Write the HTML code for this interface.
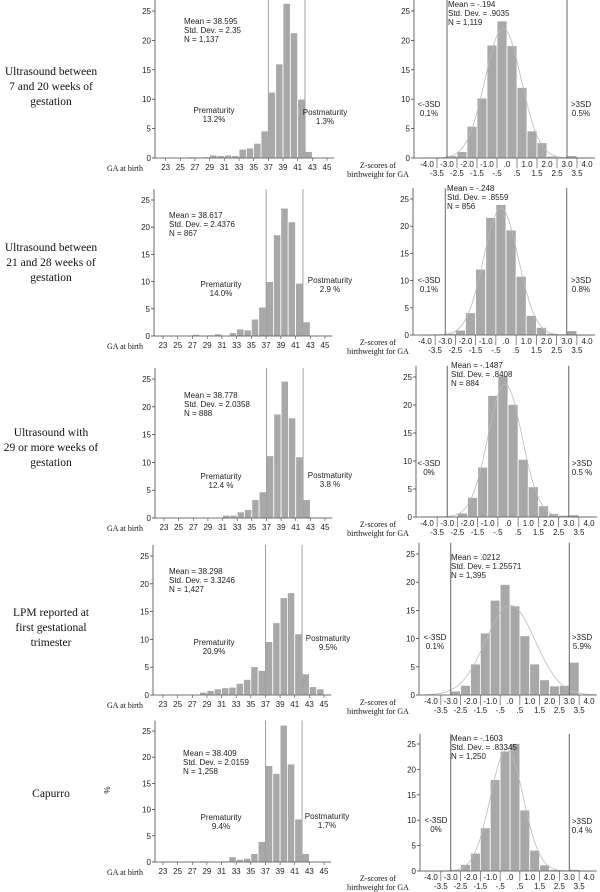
<!DOCTYPE html>
<html><head><meta charset="utf-8">
<style>
html,body{margin:0;padding:0;background:#fff;}
svg{display:block;}
.lab{font-family:"Liberation Serif",serif;font-size:11.5px;fill:#111;}
.t{font-family:"Liberation Sans",sans-serif;font-size:8px;fill:#222;}
.ax{font-family:"Liberation Serif",serif;font-size:8px;fill:#111;}
</style></head><body>
<svg id="fig" width="600" height="892" xmlns="http://www.w3.org/2000/svg"></svg>
<script>
// Gestational age histograms (bins 22..44, % per week)
const gaBins = [22,23,24,25,26,27,28,29,30,31,32,33,34,35,36,37,38,39,40,41,42,43,44];
const gaRow1 = [0,0,0,0.05,0.2,0.1,0.2,0.5,0.4,0.5,0.4,1.5,1.7,2.5,4.6,11.2,16,26.3,21.3,10,1.1,0,0];
const gaRow2 = [0,0,0,0,0,0.3,0.1,0.2,0.4,0,0.6,1.3,1.1,3.1,5.3,10,18.6,23.5,21,9.7,2.6,0,0];
const gaRow3 = [0,0,0,0,0,0,0,0,0.1,0.5,0.5,1.1,1.5,3.3,4.7,11.2,18.7,24.6,18,11,3.3,0.1,0.1];
const gaRow4 = [0,0,0,0.1,0.05,0.1,0.5,0.8,1.1,1.3,1.4,2.1,2.8,5.1,4.4,9.6,13,17.5,18.4,11,3.8,1.5,1.1];
const gaRow5 = [0,0,0,0,0.05,0,0.2,0,0.1,0.2,1,0.5,0.7,1.6,3.9,18.4,16.9,26.1,18.7,8.2,1.6,0,0];
const gaTicks = [23,25,27,29,31,33,35,37,39,41,43,45];
// Z-score histograms (bin start -3.5..3.0, width 0.5)
const zBins = [-3.5,-3,-2.5,-2,-1.5,-1,-0.5,0,0.5,1,1.5,2,2.5,3];
const zRow1 = [0.1,0.4,1.1,5.4,10.2,19.2,23.3,19.1,12,4.6,2.6,0.3,0.1,0.4];
const zRow2 = [0,0.3,0.9,4.1,12.1,21.6,24,19.3,10.8,3.6,1.4,0.3,0.1,0.8];
const zRow3 = [0,0,0.7,3.5,8.9,21.7,25.2,20.1,10.3,5.4,2,0.6,0.3,0.4];
const zRow4 = [0,0.7,1.7,5.5,11,16.8,19.6,15.8,10.5,5.5,2.7,1.6,1.7,5.8];
const zRow5 = [0,0.3,1.3,3.5,8.5,18,23.6,25.1,12,4.1,1.2,0.3,0,0.3];
const zMeans = [-0.194,-0.248,-0.1487,0.0212,-0.1603];
const zSDs = [0.9035,0.8559,0.8408,1.25571,0.83345];
const zTicksTop = ["-4.0","-3.0","-2.0","-1.0",".0","1.0","2.0","3.0","4.0"];
const zTicksBot = ["-3.5","-2.5","-1.5","-.5",".5","1.5","2.5","3.5"];
const yTicks = [0,5,10,15,20,25];
const leftStats = [["Mean = 38.595","Std. Dev. = 2.35","N = 1,137"],["Mean = 38.617","Std. Dev. = 2.4376","N = 867"],["Mean = 38.778","Std. Dev. = 2.0358","N = 888"],["Mean = 38.298","Std. Dev. = 3.3246","N = 1,427"],["Mean = 38.409","Std. Dev. = 2.0159","N = 1,258"]];
const rightStats = [["Mean = -.194","Std. Dev. = .9035","N = 1,119"],["Mean = -.248","Std. Dev. = .8559","N = 856"],["Mean = -.1487","Std. Dev. = .8408","N = 884"],["Mean = .0212","Std. Dev. = 1.25571","N = 1,395"],["Mean = -.1603","Std. Dev. = .83345","N = 1,250"]];
const preLabels = ["13.2%","14.0%","12.4 %","20.9%","9.4%"];
const postLabels = ["1.3%","2.9 %","3.8 %","9.5%","1.7%"];
const loLabels = ["0.1%","0.1%","0%","0.1%","0%"];
const hiLabels = ["0.5%","0.8%","0.5 %","5.9%","0.4 %"];
const rowNames = [["Ultrasound between","7 and 20 weeks of","gestation"],["Ultrasound between","21 and 28 weeks of","gestation"],["Ultrasound with","29 or more weeks of","gestation"],["LPM reported at","first gestational","trimester"],["Capurro"]];

const gaData=[gaRow1,gaRow2,gaRow3,gaRow4,gaRow5];
const zData=[zRow1,zRow2,zRow3,zRow4,zRow5];
const L=[{ax:155,y0:158,y25:11,x23:165.7,x45:327,sx:184,sy:24,px:214,py:113,qx:325,qy:115},
{ax:154,y0:336,y25:200,x23:163,x45:325,sx:169,sy:218,px:221,py:287,qx:330,qy:283},
{ax:155,y0:518,y25:379,x23:164,x45:325,sx:184,sy:398,px:221,py:479,qx:330,qy:478},
{ax:153,y0:695,y25:556,x23:163,x45:324,sx:169,sy:574,px:214,py:645,qx:328,qy:641},
{ax:155,y0:862,y25:731,x23:163,x45:324,sx:183,sy:756,px:221,py:820,qx:327,qy:819}];
const R=[{ax:414,y0:158,y25:11,xa:427,xb:587,sx:448,sy:7,lx:429,ly:107,hx:581,hy:107},
{ax:413,y0:335,y25:199,xa:425,xb:587,sx:447,sy:191,lx:429,ly:283,hx:581,hy:283},
{ax:416,y0:517,y25:377,xa:427,xb:589,sx:451,sy:368,lx:429,ly:466,hx:582,hy:466},
{ax:419,y0:695,y25:554,xa:431,xb:589,sx:451,sy:560,lx:435,ly:640,hx:582,hy:640},
{ax:420,y0:871,y25:744,xa:431,xb:589,sx:451,sy:741,lx:436,ly:823,hx:582,hy:824}];
const rowCenters=[86,262,447,627,793];

const NS="http://www.w3.org/2000/svg";
const svg=document.getElementById('fig');
function mk(tag,attrs,parent,txt){const e=document.createElementNS(NS,tag);for(const k in attrs)e.setAttribute(k,attrs[k]);if(txt!==undefined)e.textContent=txt;(parent||svg).appendChild(e);return e;}

rowNames.forEach((lines,i)=>{
  const g=mk('g',{});
  
  
  const n=lines.length, start=rowCenters[i]-(n-1)*7.5+4;
  lines.forEach((s,j)=>mk('text',{x:51,y:start+j*15,'text-anchor':'middle',class:'lab'},g,s));
});

function yAxis(g,ax,y,y0,y25){
  mk('line',{x1:ax,x2:ax,y1:y0,y2:y(27),stroke:'#444','stroke-width':0.8},g);
  yTicks.forEach(v=>{mk('line',{x1:ax-3,x2:ax,y1:y(v),y2:y(v),stroke:'#444','stroke-width':0.8},g);
    mk('text',{x:ax-4,y:y(v)+3,'text-anchor':'end',class:'t'},g,String(v));});
}

gaData.forEach((vals,i)=>{
  const c=L[i];
  const g=mk('g',{});
  
  
  const x=v=>c.x23+(v-23)*(c.x45-c.x23)/22;
  const y=v=>c.y0-v*(c.y0-c.y25)/25;
  const bw=(c.x45-c.x23)/22;
  vals.forEach((v,k)=>{ if(v<=0) return;
    const b=mk('rect',{x:x(gaBins[k]),y:y(v),width:bw,height:c.y0-y(v),fill:'#a8a8a8',stroke:'#fff','stroke-width':0.8},g);
    
    
  });
  yAxis(g,c.ax,y,c.y0,c.y25);
  mk('line',{x1:c.ax,x2:x(46),y1:c.y0,y2:c.y0,stroke:'#444','stroke-width':0.8},g);
  gaTicks.forEach(t=>{mk('line',{x1:x(t),x2:x(t),y1:c.y0,y2:c.y0+3,stroke:'#444','stroke-width':0.6},g);
    mk('text',{x:x(t),y:c.y0+12,'text-anchor':'middle',class:'t'},g,String(t));});
  [37,42].forEach(t=>mk('line',{x1:x(t),x2:x(t),y1:c.y0,y2:y(27),stroke:'#999','stroke-width':0.9},g));
  mk('text',{x:107,y:c.y0+13,class:'ax'},g,'GA at birth');
  leftStats[i].forEach((s,j)=>mk('text',{x:c.sx,y:c.sy+j*9,class:'t'},g,s));
  mk('text',{x:c.px,y:c.py,'text-anchor':'middle',class:'t'},g,'Prematurity');
  mk('text',{x:c.px,y:c.py+9,'text-anchor':'middle',class:'t'},g,preLabels[i]);
  mk('text',{x:c.qx,y:c.qy,'text-anchor':'middle',class:'t'},g,'Postmaturity');
  mk('text',{x:c.qx,y:c.qy+9,'text-anchor':'middle',class:'t'},g,postLabels[i]);
  if(i===4){mk('text',{x:0,y:0,class:'t',transform:'translate(110,790) rotate(-90)','text-anchor':'middle'},g,'%');}
});

zData.forEach((vals,i)=>{
  const c=R[i];
  const g=mk('g',{});
  
  
  const x=v=>c.xa+(v+4)*(c.xb-c.xa)/8;
  const y=v=>c.y0-v*(c.y0-c.y25)/25;
  const bw=(c.xb-c.xa)/16;
  vals.forEach((v,k)=>{ if(v<=0) return;
    const b=mk('rect',{x:x(zBins[k]),y:y(v),width:bw,height:c.y0-y(v),fill:'#a8a8a8',stroke:'#fff','stroke-width':0.8},g);
    
    
  });
  const m=zMeans[i], s=zSDs[i];
  let d='';
  for(let z=-4.3;z<=4.31;z+=0.05){const p=50*Math.exp(-0.5*((z-m)/s)**2)/(s*Math.sqrt(2*Math.PI));d+=(d?'L':'M')+x(z).toFixed(1)+','+y(p).toFixed(1);}
  const cv=mk('path',{d:d,fill:'none',stroke:'#bbb','stroke-width':0.8},g);
  
  
  yAxis(g,c.ax,y,c.y0,c.y25);
  mk('line',{x1:c.ax,x2:x(4.4),y1:c.y0,y2:c.y0,stroke:'#444','stroke-width':0.8},g);
  for(let k=0;k<8;k++){const t=-3.5+k;mk('line',{x1:x(t),x2:x(t),y1:c.y0,y2:c.y0+10,stroke:'#444','stroke-width':0.6},g);}
  zTicksTop.forEach((s,k)=>mk('text',{x:x(-4+k),y:c.y0+9,'text-anchor':'middle',class:'t'},g,s));
  zTicksBot.forEach((s,k)=>mk('text',{x:x(-3.5+k),y:c.y0+18,'text-anchor':'middle',class:'t'},g,s));
  [-3,3].forEach(t=>mk('line',{x1:x(t),x2:x(t),y1:c.y0,y2:y(27),stroke:'#555','stroke-width':0.9},g));
  mk('text',{x:378,y:c.y0+10,'text-anchor':'middle',class:'ax'},g,'Z-scores of');
  mk('text',{x:378,y:c.y0+19,'text-anchor':'middle',class:'ax'},g,'birthweight for GA');
  rightStats[i].forEach((t,j)=>mk('text',{x:c.sx,y:c.sy+j*9,class:'t'},g,t));
  mk('text',{x:c.lx,y:c.ly,'text-anchor':'middle',class:'t'},g,'<-3SD');
  mk('text',{x:c.lx,y:c.ly+9,'text-anchor':'middle',class:'t'},g,loLabels[i]);
  mk('text',{x:c.hx,y:c.hy,'text-anchor':'middle',class:'t'},g,'>3SD');
  mk('text',{x:c.hx,y:c.hy+9,'text-anchor':'middle',class:'t'},g,hiLabels[i]);
});
</script>
</body></html>
